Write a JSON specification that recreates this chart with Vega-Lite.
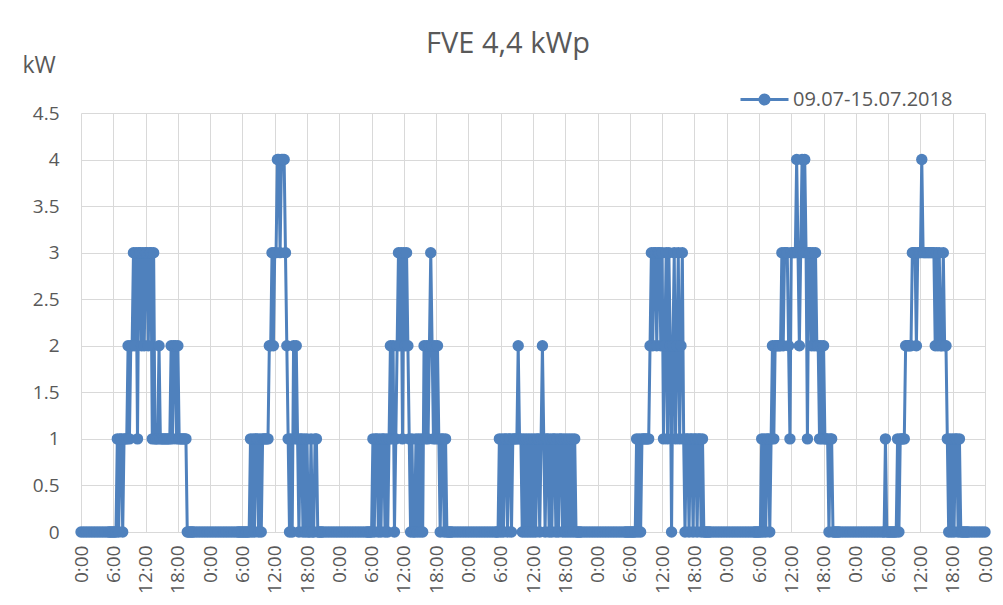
{
"$schema": "https://vega.github.io/schema/vega-lite/v6.json",
"width": 904,
"height": 419,
"autosize": {"type": "none"},
"padding": {"left": 81, "top": 113, "right": 18, "bottom": 73},
"background": "white",
"config": {"view": {"stroke": null}},
"title": {"text": "FVE 4,4 kWp", "font": "Open Sans", "fontSize": 29, "fontWeight": "normal", "color": "#595959", "anchor": "middle", "dx": -25, "dy": 5, "offset": 0},
"data": {"values": [
{"h":0,"kw":0},{"h":0.5,"kw":0},{"h":1,"kw":0},{"h":1.5,"kw":0},{"h":2,"kw":0},{"h":2.5,"kw":0},{"h":3,"kw":0},{"h":3.5,"kw":0},{"h":4,"kw":0},{"h":4.5,"kw":0},
{"h":5,"kw":0},{"h":5.25,"kw":0},{"h":5.5,"kw":0},{"h":5.75,"kw":0},
{"h":6,"kw":0},{"h":6.25,"kw":0},{"h":6.5,"kw":0},{"h":6.75,"kw":1},
{"h":7,"kw":0},{"h":7.25,"kw":1},{"h":7.5,"kw":1},{"h":7.75,"kw":0},
{"h":8,"kw":1},{"h":8.25,"kw":1},{"h":8.5,"kw":1},{"h":8.75,"kw":2},
{"h":9,"kw":1},{"h":9.25,"kw":2},{"h":9.5,"kw":2},{"h":9.75,"kw":3},
{"h":10,"kw":2},{"h":10.25,"kw":3},{"h":10.5,"kw":1},{"h":10.75,"kw":3},
{"h":11,"kw":3},{"h":11.25,"kw":2},{"h":11.5,"kw":3},{"h":11.75,"kw":2},
{"h":12,"kw":3},{"h":12.25,"kw":3},{"h":12.5,"kw":2},{"h":12.75,"kw":3},
{"h":13,"kw":3},{"h":13.25,"kw":1},{"h":13.5,"kw":3},{"h":13.75,"kw":1},
{"h":14,"kw":1},{"h":14.25,"kw":1},{"h":14.5,"kw":2},{"h":14.75,"kw":1},
{"h":15,"kw":1},{"h":15.25,"kw":1},{"h":15.5,"kw":1},{"h":15.75,"kw":1},
{"h":16,"kw":1},{"h":16.25,"kw":1},{"h":16.5,"kw":1},{"h":16.75,"kw":2},
{"h":17,"kw":1},{"h":17.25,"kw":2},{"h":17.5,"kw":2},{"h":17.75,"kw":1},
{"h":18,"kw":2},{"h":18.25,"kw":1},{"h":18.5,"kw":1},{"h":18.75,"kw":1},
{"h":19,"kw":1},{"h":19.25,"kw":1},{"h":19.5,"kw":1},{"h":19.75,"kw":0},
{"h":20,"kw":0},{"h":20.25,"kw":0},{"h":20.5,"kw":0},{"h":20.75,"kw":0},
{"h":21,"kw":0},{"h":21.5,"kw":0},{"h":22,"kw":0},{"h":22.5,"kw":0},{"h":23,"kw":0},{"h":23.5,"kw":0},
{"h":24,"kw":0},{"h":24.5,"kw":0},{"h":25,"kw":0},{"h":25.5,"kw":0},{"h":26,"kw":0},{"h":26.5,"kw":0},{"h":27,"kw":0},{"h":27.5,"kw":0},{"h":28,"kw":0},{"h":28.5,"kw":0},
{"h":29,"kw":0},{"h":29.25,"kw":0},{"h":29.5,"kw":0},{"h":29.75,"kw":0},
{"h":30,"kw":0},{"h":30.25,"kw":0},{"h":30.5,"kw":0},{"h":30.75,"kw":0},
{"h":31,"kw":0},{"h":31.25,"kw":0},{"h":31.5,"kw":1},{"h":31.75,"kw":0},
{"h":32,"kw":1},{"h":32.25,"kw":0},{"h":32.5,"kw":1},{"h":32.75,"kw":1},
{"h":33,"kw":0},{"h":33.25,"kw":1},{"h":33.5,"kw":0},{"h":33.75,"kw":1},
{"h":34,"kw":1},{"h":34.25,"kw":1},{"h":34.5,"kw":1},{"h":34.75,"kw":1},
{"h":35,"kw":2},{"h":35.25,"kw":2},{"h":35.5,"kw":3},{"h":35.75,"kw":2},
{"h":36,"kw":3},{"h":36.25,"kw":3},{"h":36.5,"kw":4},{"h":36.75,"kw":4},
{"h":37,"kw":3},{"h":37.25,"kw":4},{"h":37.5,"kw":4},{"h":37.75,"kw":4},
{"h":38,"kw":3},{"h":38.25,"kw":2},{"h":38.5,"kw":1},{"h":38.75,"kw":0},
{"h":39,"kw":1},{"h":39.25,"kw":0},{"h":39.5,"kw":2},{"h":39.75,"kw":1},
{"h":40,"kw":2},{"h":40.25,"kw":1},{"h":40.5,"kw":0},{"h":40.75,"kw":1},
{"h":41,"kw":1},{"h":41.25,"kw":0},{"h":41.5,"kw":1},{"h":41.75,"kw":0},
{"h":42,"kw":1},{"h":42.25,"kw":0},{"h":42.5,"kw":0},{"h":42.75,"kw":1},
{"h":43,"kw":0},{"h":43.25,"kw":0},{"h":43.5,"kw":1},{"h":43.75,"kw":1},
{"h":44,"kw":0},{"h":44.25,"kw":0},{"h":44.5,"kw":0},{"h":44.75,"kw":0},
{"h":45,"kw":0},{"h":45.5,"kw":0},{"h":46,"kw":0},{"h":46.5,"kw":0},{"h":47,"kw":0},{"h":47.5,"kw":0},
{"h":48,"kw":0},{"h":48.5,"kw":0},{"h":49,"kw":0},{"h":49.5,"kw":0},{"h":50,"kw":0},{"h":50.5,"kw":0},{"h":51,"kw":0},{"h":51.5,"kw":0},{"h":52,"kw":0},{"h":52.5,"kw":0},
{"h":53,"kw":0},{"h":53.25,"kw":0},{"h":53.5,"kw":0},{"h":53.75,"kw":0},
{"h":54,"kw":0},{"h":54.25,"kw":1},{"h":54.5,"kw":0},{"h":54.75,"kw":1},
{"h":55,"kw":1},{"h":55.25,"kw":0},{"h":55.5,"kw":1},{"h":55.75,"kw":0},
{"h":56,"kw":1},{"h":56.25,"kw":1},{"h":56.5,"kw":0},{"h":56.75,"kw":1},
{"h":57,"kw":0},{"h":57.25,"kw":1},{"h":57.5,"kw":2},{"h":57.75,"kw":1},
{"h":58,"kw":2},{"h":58.25,"kw":0},{"h":58.5,"kw":1},{"h":58.75,"kw":2},
{"h":59,"kw":3},{"h":59.25,"kw":2},{"h":59.5,"kw":3},{"h":59.75,"kw":1},
{"h":60,"kw":3},{"h":60.25,"kw":2},{"h":60.5,"kw":3},{"h":60.75,"kw":2},
{"h":61,"kw":1},{"h":61.25,"kw":0},{"h":61.5,"kw":1},{"h":61.75,"kw":0},
{"h":62,"kw":0},{"h":62.25,"kw":1},{"h":62.5,"kw":0},{"h":62.75,"kw":1},
{"h":63,"kw":0},{"h":63.25,"kw":1},{"h":63.5,"kw":0},{"h":63.75,"kw":2},
{"h":64,"kw":1},{"h":64.25,"kw":2},{"h":64.5,"kw":1},{"h":64.75,"kw":2},
{"h":65,"kw":3},{"h":65.25,"kw":2},{"h":65.5,"kw":1},{"h":65.75,"kw":2},
{"h":66,"kw":1},{"h":66.25,"kw":2},{"h":66.5,"kw":1},{"h":66.75,"kw":0},
{"h":67,"kw":1},{"h":67.25,"kw":1},{"h":67.5,"kw":0},{"h":67.75,"kw":1},
{"h":68,"kw":0},{"h":68.25,"kw":0},{"h":68.5,"kw":0},{"h":68.75,"kw":0},
{"h":69,"kw":0},{"h":69.5,"kw":0},{"h":70,"kw":0},{"h":70.5,"kw":0},{"h":71,"kw":0},{"h":71.5,"kw":0},
{"h":72,"kw":0},{"h":72.5,"kw":0},{"h":73,"kw":0},{"h":73.5,"kw":0},{"h":74,"kw":0},{"h":74.5,"kw":0},{"h":75,"kw":0},{"h":75.5,"kw":0},{"h":76,"kw":0},{"h":76.5,"kw":0},
{"h":77,"kw":0},{"h":77.25,"kw":0},{"h":77.5,"kw":0},{"h":77.75,"kw":1},
{"h":78,"kw":0},{"h":78.25,"kw":1},{"h":78.5,"kw":0},{"h":78.75,"kw":1},
{"h":79,"kw":1},{"h":79.25,"kw":0},{"h":79.5,"kw":1},{"h":79.75,"kw":1},
{"h":80,"kw":0},{"h":80.25,"kw":1},{"h":80.5,"kw":1},{"h":80.75,"kw":1},
{"h":81,"kw":1},{"h":81.25,"kw":2},{"h":81.5,"kw":1},{"h":81.75,"kw":1},
{"h":82,"kw":0},{"h":82.25,"kw":1},{"h":82.5,"kw":0},{"h":82.75,"kw":1},
{"h":83,"kw":0},{"h":83.25,"kw":1},{"h":83.5,"kw":0},{"h":83.75,"kw":1},
{"h":84,"kw":0},{"h":84.25,"kw":1},{"h":84.5,"kw":0},{"h":84.75,"kw":1},
{"h":85,"kw":1},{"h":85.25,"kw":0},{"h":85.5,"kw":1},{"h":85.75,"kw":2},
{"h":86,"kw":1},{"h":86.25,"kw":0},{"h":86.5,"kw":1},{"h":86.75,"kw":1},
{"h":87,"kw":0},{"h":87.25,"kw":1},{"h":87.5,"kw":0},{"h":87.75,"kw":1},
{"h":88,"kw":1},{"h":88.25,"kw":0},{"h":88.5,"kw":1},{"h":88.75,"kw":0},
{"h":89,"kw":1},{"h":89.25,"kw":1},{"h":89.5,"kw":0},{"h":89.75,"kw":1},
{"h":90,"kw":0},{"h":90.25,"kw":1},{"h":90.5,"kw":0},{"h":90.75,"kw":1},
{"h":91,"kw":0},{"h":91.25,"kw":1},{"h":91.5,"kw":0},{"h":91.75,"kw":1},
{"h":92,"kw":0},{"h":92.25,"kw":0},{"h":92.5,"kw":0},{"h":92.75,"kw":0},
{"h":93,"kw":0},{"h":93.5,"kw":0},{"h":94,"kw":0},{"h":94.5,"kw":0},{"h":95,"kw":0},{"h":95.5,"kw":0},
{"h":96,"kw":0},{"h":96.5,"kw":0},{"h":97,"kw":0},{"h":97.5,"kw":0},{"h":98,"kw":0},{"h":98.5,"kw":0},{"h":99,"kw":0},{"h":99.5,"kw":0},{"h":100,"kw":0},{"h":100.5,"kw":0},
{"h":101,"kw":0},{"h":101.25,"kw":0},{"h":101.5,"kw":0},{"h":101.75,"kw":0},
{"h":102,"kw":0},{"h":102.25,"kw":0},{"h":102.5,"kw":0},{"h":102.75,"kw":0},
{"h":103,"kw":0},{"h":103.25,"kw":1},{"h":103.5,"kw":0},{"h":103.75,"kw":1},
{"h":104,"kw":0},{"h":104.25,"kw":1},{"h":104.5,"kw":1},{"h":104.75,"kw":1},
{"h":105,"kw":1},{"h":105.25,"kw":1},{"h":105.5,"kw":1},{"h":105.75,"kw":2},
{"h":106,"kw":3},{"h":106.25,"kw":2},{"h":106.5,"kw":3},{"h":106.75,"kw":3},
{"h":107,"kw":2},{"h":107.25,"kw":3},{"h":107.5,"kw":3},{"h":107.75,"kw":2},
{"h":108,"kw":3},{"h":108.25,"kw":1},{"h":108.5,"kw":2},{"h":108.75,"kw":3},
{"h":109,"kw":1},{"h":109.25,"kw":3},{"h":109.5,"kw":2},{"h":109.75,"kw":0},
{"h":110,"kw":2},{"h":110.25,"kw":3},{"h":110.5,"kw":1},{"h":110.75,"kw":2},
{"h":111,"kw":3},{"h":111.25,"kw":1},{"h":111.5,"kw":2},{"h":111.75,"kw":3},
{"h":112,"kw":1},{"h":112.25,"kw":0},{"h":112.5,"kw":1},{"h":112.75,"kw":1},
{"h":113,"kw":0},{"h":113.25,"kw":1},{"h":113.5,"kw":1},{"h":113.75,"kw":0},
{"h":114,"kw":1},{"h":114.25,"kw":1},{"h":114.5,"kw":0},{"h":114.75,"kw":1},
{"h":115,"kw":1},{"h":115.25,"kw":0},{"h":115.5,"kw":1},{"h":115.75,"kw":0},
{"h":116,"kw":0},{"h":116.25,"kw":0},{"h":116.5,"kw":0},{"h":116.75,"kw":0},
{"h":117,"kw":0},{"h":117.5,"kw":0},{"h":118,"kw":0},{"h":118.5,"kw":0},{"h":119,"kw":0},{"h":119.5,"kw":0},
{"h":120,"kw":0},{"h":120.5,"kw":0},{"h":121,"kw":0},{"h":121.5,"kw":0},{"h":122,"kw":0},{"h":122.5,"kw":0},{"h":123,"kw":0},{"h":123.5,"kw":0},{"h":124,"kw":0},{"h":124.5,"kw":0},
{"h":125,"kw":0},{"h":125.25,"kw":0},{"h":125.5,"kw":0},{"h":125.75,"kw":0},
{"h":126,"kw":0},{"h":126.25,"kw":0},{"h":126.5,"kw":1},{"h":126.75,"kw":0},
{"h":127,"kw":1},{"h":127.25,"kw":0},{"h":127.5,"kw":1},{"h":127.75,"kw":1},
{"h":128,"kw":0},{"h":128.25,"kw":1},{"h":128.5,"kw":2},{"h":128.75,"kw":1},
{"h":129,"kw":2},{"h":129.25,"kw":2},{"h":129.5,"kw":2},{"h":129.75,"kw":2},
{"h":130,"kw":2},{"h":130.25,"kw":3},{"h":130.5,"kw":2},{"h":130.75,"kw":3},
{"h":131,"kw":3},{"h":131.25,"kw":3},{"h":131.5,"kw":2},{"h":131.75,"kw":1},
{"h":132,"kw":3},{"h":132.25,"kw":3},{"h":132.5,"kw":3},{"h":132.75,"kw":3},
{"h":133,"kw":4},{"h":133.25,"kw":3},{"h":133.5,"kw":2},{"h":133.75,"kw":3},
{"h":134,"kw":4},{"h":134.25,"kw":3},{"h":134.5,"kw":4},{"h":134.75,"kw":3},
{"h":135,"kw":1},{"h":135.25,"kw":3},{"h":135.5,"kw":3},{"h":135.75,"kw":2},
{"h":136,"kw":3},{"h":136.25,"kw":2},{"h":136.5,"kw":3},{"h":136.75,"kw":2},
{"h":137,"kw":2},{"h":137.25,"kw":1},{"h":137.5,"kw":2},{"h":137.75,"kw":1},
{"h":138,"kw":2},{"h":138.25,"kw":1},{"h":138.5,"kw":1},{"h":138.75,"kw":1},
{"h":139,"kw":0},{"h":139.25,"kw":1},{"h":139.5,"kw":1},{"h":139.75,"kw":0},
{"h":140,"kw":0},{"h":140.25,"kw":0},{"h":140.5,"kw":0},{"h":140.75,"kw":0},
{"h":141,"kw":0},{"h":141.5,"kw":0},{"h":142,"kw":0},{"h":142.5,"kw":0},{"h":143,"kw":0},{"h":143.5,"kw":0},
{"h":144,"kw":0},{"h":144.5,"kw":0},{"h":145,"kw":0},{"h":145.5,"kw":0},{"h":146,"kw":0},{"h":146.5,"kw":0},{"h":147,"kw":0},{"h":147.5,"kw":0},{"h":148,"kw":0},{"h":148.5,"kw":0},
{"h":149,"kw":0},{"h":149.25,"kw":0},{"h":149.5,"kw":1},{"h":149.75,"kw":0},
{"h":150,"kw":0},{"h":150.25,"kw":0},{"h":150.5,"kw":0},{"h":150.75,"kw":0},
{"h":151,"kw":0},{"h":151.25,"kw":0},{"h":151.5,"kw":0},{"h":151.75,"kw":1},
{"h":152,"kw":0},{"h":152.25,"kw":1},{"h":152.5,"kw":1},{"h":152.75,"kw":1},
{"h":153,"kw":1},{"h":153.25,"kw":2},{"h":153.5,"kw":2},{"h":153.75,"kw":2},
{"h":154,"kw":2},{"h":154.25,"kw":2},{"h":154.5,"kw":3},{"h":154.75,"kw":3},
{"h":155,"kw":3},{"h":155.25,"kw":2},{"h":155.5,"kw":3},{"h":155.75,"kw":3},
{"h":156,"kw":3},{"h":156.25,"kw":4},{"h":156.5,"kw":3},{"h":156.75,"kw":3},
{"h":157,"kw":3},{"h":157.25,"kw":3},{"h":157.5,"kw":3},{"h":157.75,"kw":3},
{"h":158,"kw":3},{"h":158.25,"kw":3},{"h":158.5,"kw":3},{"h":158.75,"kw":2},
{"h":159,"kw":3},{"h":159.25,"kw":2},{"h":159.5,"kw":3},{"h":159.75,"kw":2},
{"h":160,"kw":2},{"h":160.25,"kw":3},{"h":160.5,"kw":2},{"h":160.75,"kw":2},
{"h":161,"kw":1},{"h":161.25,"kw":0},{"h":161.5,"kw":1},{"h":161.75,"kw":0},
{"h":162,"kw":1},{"h":162.25,"kw":0},{"h":162.5,"kw":1},{"h":162.75,"kw":1},
{"h":163,"kw":0},{"h":163.25,"kw":1},{"h":163.5,"kw":0},{"h":163.75,"kw":0},
{"h":164,"kw":0},{"h":164.25,"kw":0},{"h":164.5,"kw":0},{"h":164.75,"kw":0},
{"h":165,"kw":0},{"h":165.5,"kw":0},{"h":166,"kw":0},{"h":166.5,"kw":0},{"h":167,"kw":0},{"h":167.5,"kw":0},{"h":168,"kw":0}
]},
"mark": {"type": "line", "strokeWidth": 3, "point": {"filled": true, "size": 130}},
"encoding": {
  "x": {"field": "h", "type": "quantitative", "scale": {"domain": [0, 168], "nice": false, "zero": false},
    "axis": {"values": [0,6,12,18,24,30,36,42,48,54,60,66,72,78,84,90,96,102,108,114,120,126,132,138,144,150,156,162,168],
      "labelExpr": "(datum.value % 24) + ':00'", "labelAngle": -90, "labelFont": "Open Sans", "labelFontSize": 19, "labelColor": "#595959",
      "labelPadding": 13, "ticks": false, "domain": false, "grid": true, "gridColor": "#D9D9D9", "gridWidth": 1,
      "title": null, "labelFlush": false, "labelOverlap": false, "labelBound": false}},
  "y": {"field": "kw", "type": "quantitative", "scale": {"domain": [0, 4.5], "nice": false},
    "axis": {"values": [0,0.5,1,1.5,2,2.5,3,3.5,4,4.5], "format": "~g", "labelFont": "Open Sans", "labelFontSize": 19, "labelColor": "#595959",
      "labelPadding": 22, "ticks": false, "domain": false, "grid": true, "gridColor": "#D9D9D9", "gridWidth": 1,
      "title": "kW", "titleAngle": 0, "titleAlign": "left", "titleBaseline": "alphabetic", "titleX": -59, "titleY": -41,
      "titleFont": "Open Sans", "titleFontSize": 23, "titleFontWeight": "normal", "titleColor": "#595959"}},
  "color": {"datum": "09.07-15.07.2018", "type": "nominal", "scale": {"range": ["#4F81BD"]},
    "legend": {"orient": "none", "legendX": 658, "legendY": -39, "title": null, "padding": 0,
      "labelFont": "Open Sans", "labelFontSize": 20, "labelColor": "#595959", "labelOffset": 3,
      "symbolType": "M-1,0H1M-0.19,0A0.19,0.19,0,1,1,0.19,0A0.19,0.19,0,1,1,-0.19,0Z",
      "symbolSize": 2304, "symbolStrokeWidth": 3, "symbolStrokeColor": "#4F81BD", "symbolFillColor": "#4F81BD"}}
}
}
